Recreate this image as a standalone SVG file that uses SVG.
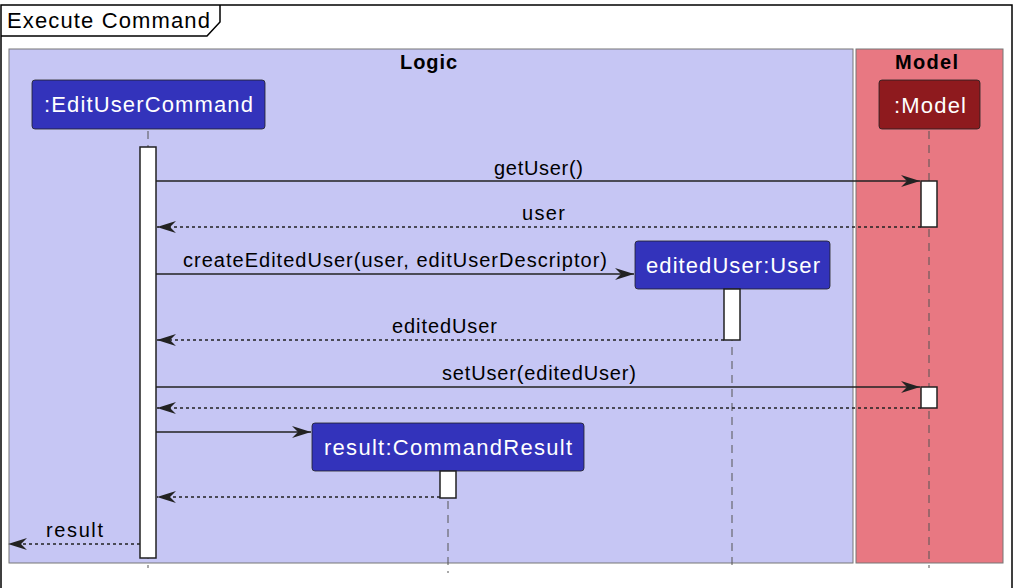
<svg xmlns="http://www.w3.org/2000/svg" width="1018" height="588" viewBox="0 0 1018 588">
<style>
.t{font-family:"Liberation Sans",Arial,sans-serif;fill:#000;}
.msg{font-size:20px;}
.part{font-family:"Liberation Sans",Arial,sans-serif;font-size:22px;fill:#fff;}
.boxt{font-family:"Liberation Sans",Arial,sans-serif;font-size:20px;font-weight:bold;fill:#000;}
.life{stroke:#555;stroke-width:1;stroke-dasharray:8,6;fill:none;}
.act{fill:#fff;stroke:#222;stroke-width:1.5;}
.solid{stroke:#222;stroke-width:1.5;fill:none;}
.dash{stroke:#222;stroke-width:1.5;stroke-dasharray:3,3;fill:none;}
.pb{fill:#3333BB;stroke:#222;stroke-width:0.8;}
</style>
<defs>
<marker id="ah" markerUnits="userSpaceOnUse" viewBox="0 0 20 14" refX="19" refY="7" markerWidth="20" markerHeight="14" orient="auto">
<polygon points="0,1 19,7 0,13 6,7" fill="#222"/>
</marker>
</defs>
<rect x="0" y="0" width="1018" height="588" fill="#fff"/>
<g id="frame">
<rect x="1" y="5" width="1011" height="600" fill="#fff" stroke="#000" stroke-width="1.5"/>
<path d="M1,36 L207,36 L220,22 L220,5" fill="none" stroke="#000" stroke-width="1.5"/>
<text class="t" x="7" y="28" font-size="22" textLength="203" lengthAdjust="spacing">Execute Command</text>
</g>
<g id="box-logic">
<rect x="9" y="49" width="844" height="514" fill="#C6C6F4" stroke="#777" stroke-width="1"/>
<text class="boxt" x="400" y="69" textLength="57" lengthAdjust="spacing">Logic</text>
</g>
<g id="box-model">
<rect x="856" y="49" width="147" height="514" fill="#E87882" stroke="#777" stroke-width="1"/>
<text class="boxt" x="895" y="69" textLength="63" lengthAdjust="spacing">Model</text>
</g>
<g id="lifelines">
<line class="life" x1="148" y1="131" x2="148" y2="568"/>
<line class="life" x1="929" y1="131" x2="929" y2="568"/>
<line class="life" x1="732" y1="291" x2="732" y2="568"/>
<line class="life" x1="448" y1="473" x2="448" y2="573"/>
</g>
<g id="editUserCommand">
<rect class="pb" x="32" y="80" width="233" height="49" rx="3"/>
<text class="part" x="44" y="112" textLength="209" lengthAdjust="spacing">:EditUserCommand</text>
<rect class="act" x="140" y="147" width="16" height="411"/>
</g>
<g id="model">
<rect x="879" y="80" width="101" height="49" rx="3" fill="#8E1A1E" stroke="#222" stroke-width="0.8"/>
<text class="part" x="894" y="113" textLength="72" lengthAdjust="spacing">:Model</text>
<rect class="act" x="921" y="181" width="16" height="46"/>
<rect class="act" x="921" y="387" width="16" height="21"/>
</g>
<g id="editedUser">
<rect class="pb" x="635" y="241" width="195" height="48" rx="3"/>
<text class="part" x="646" y="273" textLength="174" lengthAdjust="spacing">editedUser:User</text>
<rect class="act" x="724" y="289" width="16" height="51"/>
</g>
<g id="commandResult">
<rect class="pb" x="312" y="423" width="272" height="48" rx="3"/>
<text class="part" x="324" y="455" textLength="248" lengthAdjust="spacing">result:CommandResult</text>
<rect class="act" x="440" y="471" width="16" height="27"/>
</g>
<g id="connectors">
<line class="solid" x1="156" y1="181" x2="920" y2="181" marker-end="url(#ah)"/>
<text class="t msg" x="494" y="175" textLength="89" lengthAdjust="spacing">getUser()</text>
<line class="dash" x1="921" y1="227" x2="157" y2="227" marker-end="url(#ah)"/>
<text class="t msg" x="522" y="220" textLength="43" lengthAdjust="spacing">user</text>
<line class="solid" x1="156" y1="274" x2="634" y2="274" marker-end="url(#ah)"/>
<text class="t msg" x="183" y="267" textLength="424" lengthAdjust="spacing">createEditedUser(user, editUserDescriptor)</text>
<line class="dash" x1="724" y1="340" x2="157" y2="340" marker-end="url(#ah)"/>
<text class="t msg" x="392" y="333" textLength="105" lengthAdjust="spacing">editedUser</text>
<line class="solid" x1="156" y1="387" x2="920" y2="387" marker-end="url(#ah)"/>
<text class="t msg" x="442" y="380" textLength="194" lengthAdjust="spacing">setUser(editedUser)</text>
<line class="dash" x1="921" y1="408" x2="157" y2="408" marker-end="url(#ah)"/>
<line class="solid" x1="156" y1="432" x2="311" y2="432" marker-end="url(#ah)"/>
<line class="dash" x1="440" y1="497" x2="157" y2="497" marker-end="url(#ah)"/>
<line class="dash" x1="140" y1="544" x2="8" y2="544" marker-end="url(#ah)"/>
<text class="t msg" x="46" y="537" textLength="57" lengthAdjust="spacing">result</text>
</g>
</svg>
